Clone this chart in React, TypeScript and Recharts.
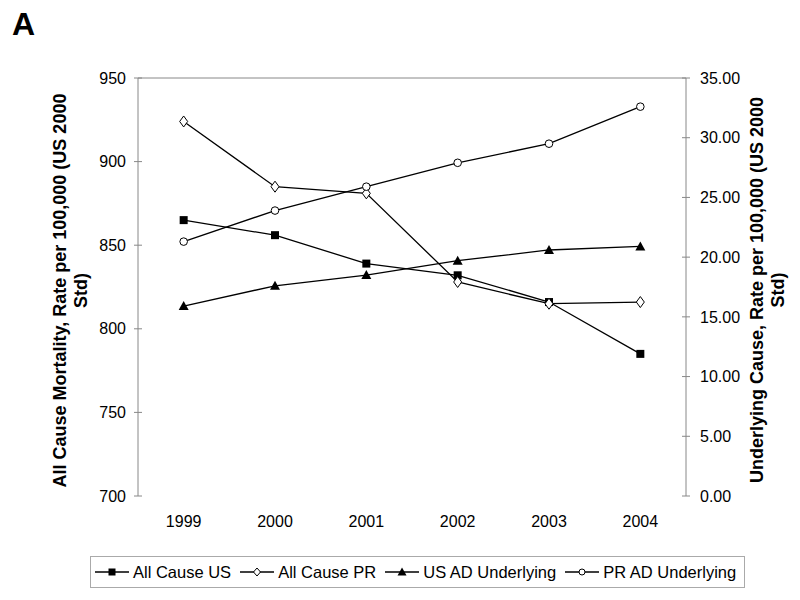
import React from 'react';
import { LineChart, Line, XAxis, YAxis, ReferenceLine } from 'recharts';

// Values
const years = ['1999', '2000', '2001', '2002', '2003', '2004'];
const allCauseUS = [865, 856, 839, 832, 816, 785];
const allCausePR = [924, 885, 881, 828, 815, 816];
const usADUnderlying = [15.9, 17.6, 18.5, 19.7, 20.6, 20.9];
const prADUnderlying = [21.3, 23.9, 25.9, 27.9, 29.5, 32.6];

const leftTicks = [700, 750, 800, 850, 900, 950];
const rightTicks = [0, 5, 10, 15, 20, 25, 30, 35];

// categories sit in the middle of each slot, tick marks on the slot edges
const data = years.map((year, i) => ({
  pos: i + 0.5,
  year,
  allCauseUS: allCauseUS[i],
  allCausePR: allCausePR[i],
  usAD: usADUnderlying[i],
  prAD: prADUnderlying[i],
}));
const boundaryTicks = [...years.map((_, i) => i), years.length];
const yearTicks = data.map((d) => d.pos);

const FONT = '"Liberation Sans", Arial, sans-serif';
const AXIS = '#888';
const INK = '#000';

const tickStyle = { fontSize: 16, fill: INK, fontFamily: FONT };

function SquareDot(p: any) {
  if (p.cx == null || p.cy == null) return null;
  return <rect key={`sq-${p.index}`} x={p.cx - 4} y={p.cy - 4} width={8} height={8} fill={INK} />;
}

function DiamondDot(p: any) {
  if (p.cx == null || p.cy == null) return null;
  const { cx, cy } = p;
  return (
    <polygon
      key={`di-${p.index}`}
      points={`${cx},${cy - 5.5} ${cx + 4},${cy} ${cx},${cy + 5.5} ${cx - 4},${cy}`}
      fill="#fff"
      stroke={INK}
      strokeWidth={1}
    />
  );
}

function TriangleDot(p: any) {
  if (p.cx == null || p.cy == null) return null;
  const { cx, cy } = p;
  return (
    <polygon
      key={`tr-${p.index}`}
      points={`${cx},${cy - 5} ${cx + 5},${cy + 4} ${cx - 5},${cy + 4}`}
      fill={INK}
    />
  );
}

function CircleDot(p: any) {
  if (p.cx == null || p.cy == null) return null;
  return <circle key={`ci-${p.index}`} cx={p.cx} cy={p.cy} r={3.8} fill="#fff" stroke={INK} strokeWidth={1} />;
}

const legendItems = [
  { label: 'All Cause US', marker: 'square' },
  { label: 'All Cause PR', marker: 'diamond' },
  { label: 'US AD Underlying', marker: 'triangle' },
  { label: 'PR AD Underlying', marker: 'circle' },
];

function LegendMarker({ kind }: { kind: string }) {
  const cx = 17;
  const cy = 6;
  let mark: React.ReactNode = null;
  if (kind === 'square') mark = <rect x={cx - 3.5} y={cy - 3.5} width={7} height={7} fill={INK} />;
  if (kind === 'diamond')
    mark = (
      <polygon
        points={`${cx},${cy - 4} ${cx + 3.5},${cy} ${cx},${cy + 4} ${cx - 3.5},${cy}`}
        fill="#fff"
        stroke={INK}
      />
    );
  if (kind === 'triangle')
    mark = <polygon points={`${cx},${cy - 4.5} ${cx + 4.5},${cy + 3.5} ${cx - 4.5},${cy + 3.5}`} fill={INK} />;
  if (kind === 'circle') mark = <circle cx={cx} cy={cy} r={3} fill="#fff" stroke={INK} />;
  return (
    <svg width={34} height={12} style={{ display: 'block', flex: 'none' }}>
      <line x1={0} y1={cy} x2={34} y2={cy} stroke={INK} strokeWidth={1.3} />
      {mark}
    </svg>
  );
}

export default function App() {
  return (
    <div
      style={{
        position: 'absolute',
        left: 0,
        top: 0,
        width: 800,
        height: 600,
        background: '#fff',
        fontFamily: FONT,
      }}
    >
      <LineChart width={800} height={545} data={data} margin={{ top: 78, right: 0, bottom: 0, left: 0 }}>
        <XAxis
          xAxisId="marks"
          type="number"
          dataKey="pos"
          domain={[0, 6]}
          ticks={boundaryTicks}
          interval={0}
          height={0}
          tickSize={8}
          tickFormatter={() => ''}
          axisLine={{ stroke: AXIS }}
          tickLine={{ stroke: AXIS, transform: 'translate(0,-4)' }}
        />
        <XAxis
          xAxisId="years"
          type="number"
          dataKey="pos"
          domain={[0, 6]}
          ticks={yearTicks}
          interval={0}
          height={49}
          axisLine={false}
          tickLine={false}
          tickSize={0}
          tickMargin={20}
          tick={tickStyle}
          tickFormatter={(v: number) => years[Math.floor(v)]}
        />
        <YAxis
          yAxisId="left"
          orientation="left"
          width={138}
          domain={[700, 950]}
          ticks={leftTicks}
          interval={0}
          tickSize={8}
          tickMargin={4}
          tick={tickStyle}
          axisLine={{ stroke: AXIS }}
          tickLine={{ stroke: AXIS, transform: 'translate(4,0)' }}
        />
        <YAxis
          yAxisId="right"
          orientation="right"
          width={114}
          domain={[0, 35]}
          ticks={rightTicks}
          interval={0}
          tickSize={8}
          tickMargin={6}
          tick={tickStyle}
          tickFormatter={(v: number) => v.toFixed(2)}
          axisLine={{ stroke: AXIS }}
          tickLine={{ stroke: AXIS, transform: 'translate(-4,0)' }}
        />
        <ReferenceLine xAxisId="years" yAxisId="left" y={950} stroke={AXIS} />
        <Line
          xAxisId="years"
          yAxisId="left"
          dataKey="allCauseUS"
          stroke={INK}
          strokeWidth={1.3}
          dot={SquareDot}
          isAnimationActive={false}
        />
        <Line
          xAxisId="years"
          yAxisId="left"
          dataKey="allCausePR"
          stroke={INK}
          strokeWidth={1.3}
          dot={DiamondDot}
          isAnimationActive={false}
        />
        <Line
          xAxisId="years"
          yAxisId="right"
          dataKey="usAD"
          stroke={INK}
          strokeWidth={1.3}
          dot={TriangleDot}
          isAnimationActive={false}
        />
        <Line
          xAxisId="years"
          yAxisId="right"
          dataKey="prAD"
          stroke={INK}
          strokeWidth={1.3}
          dot={CircleDot}
          isAnimationActive={false}
        />
      </LineChart>

      <svg
        width={800}
        height={600}
        style={{ position: 'absolute', left: 0, top: 0, pointerEvents: 'none' }}
      >
        <text x={12} y={35} fontSize={32} fontWeight="bold" fontFamily={FONT} fill={INK}>
          A
        </text>
        <text
          transform="translate(65.5,290.5) rotate(-90)"
          textAnchor="middle"
          fontSize={18}
          fontWeight="bold"
          fontFamily={FONT}
          fill={INK}
        >
          <tspan x={0} y={0}>All Cause Mortality, Rate per 100,000 (US 2000</tspan>
          <tspan x={0} y={21}>Std)</tspan>
        </text>
        <text
          transform="translate(763,290) rotate(-90)"
          textAnchor="middle"
          fontSize={18}
          fontWeight="bold"
          fontFamily={FONT}
          fill={INK}
        >
          <tspan x={0} y={0}>Underlying Cause, Rate per 100,000 (US 2000</tspan>
          <tspan x={0} y={21}>Std)</tspan>
        </text>
      </svg>

      <div
        style={{
          position: 'absolute',
          left: 90,
          top: 556,
          width: 655,
          height: 32,
          boxSizing: 'border-box',
          border: '1px solid #aaa',
          display: 'flex',
          alignItems: 'center',
          paddingLeft: 4,
          fontSize: 16.5,
          color: INK,
          whiteSpace: 'nowrap',
        }}
      >
        {legendItems.map((item, i) => (
          <div
            key={item.label}
            style={{ display: 'flex', alignItems: 'center', marginLeft: i === 0 ? 0 : 9 }}
          >
            <LegendMarker kind={item.marker} />
            <span style={{ marginLeft: 4 }}>{item.label}</span>
          </div>
        ))}
      </div>
    </div>
  );
}
